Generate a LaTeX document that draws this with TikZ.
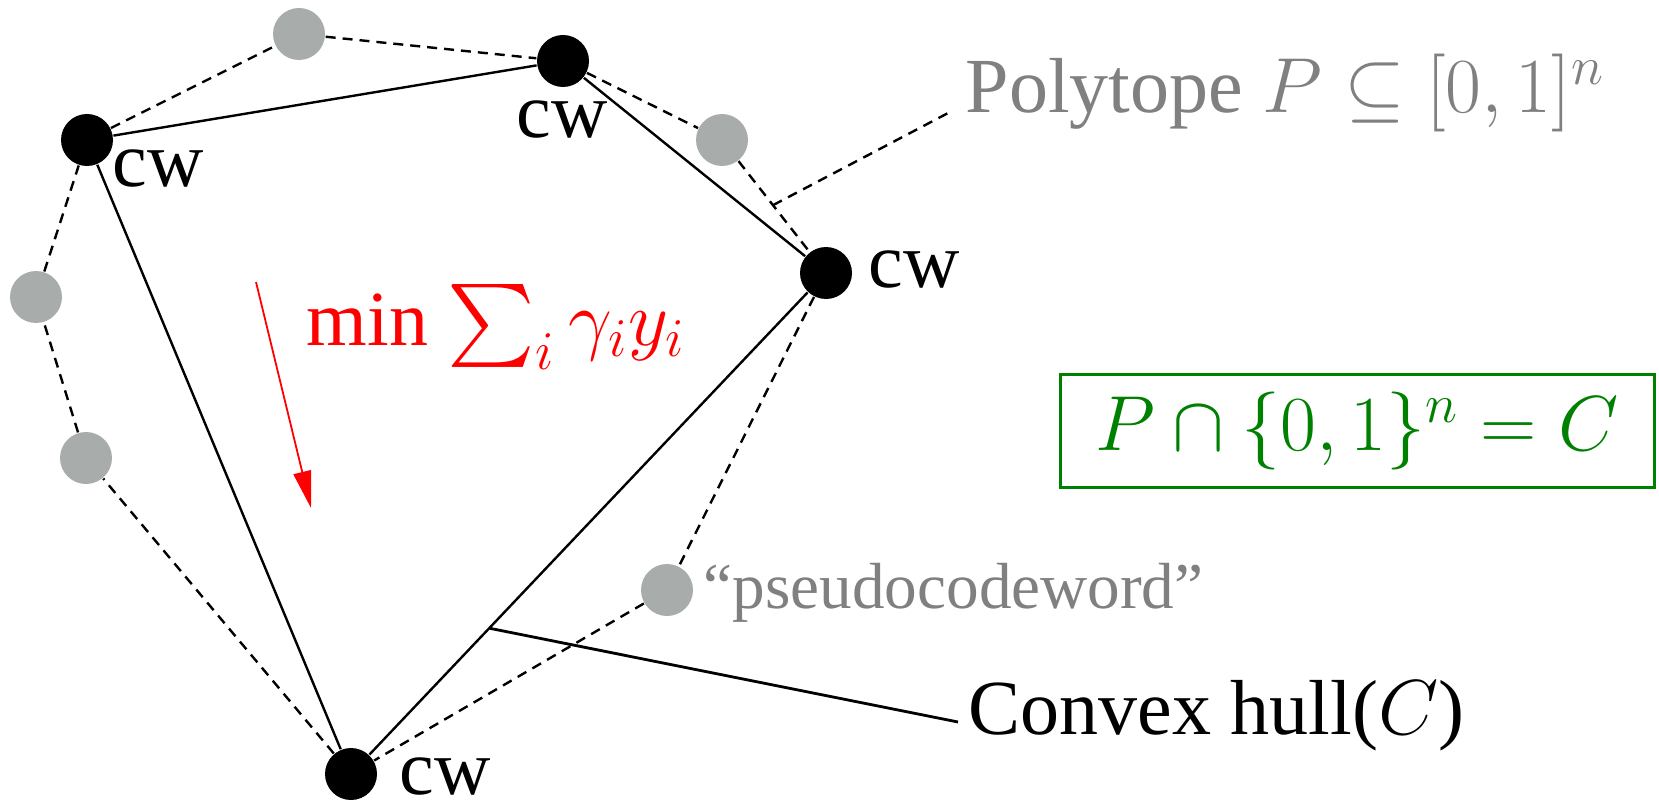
\RequirePackage{fix-cm}
\documentclass[tikz,border=0pt]{standalone}
\usepackage{amsmath}
\usepackage[no-math]{fontspec}
\setmainfont{Liberation Serif}
\usetikzlibrary{arrows.meta,calc}
\definecolor{dotgray}{RGB}{168,173,171}
\definecolor{txtgray}{RGB}{128,128,128}
\definecolor{boxgreen}{RGB}{0,128,0}
\begin{document}
\begin{tikzpicture}[x=0.25pt,y=-0.25pt,
  cwdot/.style={circle,fill=black,inner sep=0pt,minimum size=13pt},
  pdot/.style={circle,fill=dotgray,inner sep=0pt,minimum size=13pt},
  hull/.style={line width=0.6pt},
  poly/.style={line width=0.6pt,dash pattern=on 2.5pt off 1.75pt},
  lbl/.style={inner sep=0pt,anchor=base west,font=\fontsize{19.5}{23}\selectfont},
  small/.style={inner sep=0pt,anchor=base west,font=\fontsize{16.3}{20}\selectfont},
  conn/.style={line width=0.7pt}
 ]
\useasboundingbox (0,0) rectangle (1659,802);
% vertices
\node[cwdot] (L) at (87,140) {};
\node[pdot] (G1) at (299,34) {};
\node[cwdot] (T) at (563,61) {};
\node[pdot] (G2) at (722,140) {};
\node[cwdot] (R) at (826,273) {};
\node[pdot] (G3) at (667,590) {};
\node[cwdot] (B) at (351,774) {};
\node[pdot] (G4) at (86,458) {};
\node[pdot] (G5) at (36,297) {};
% edges
\draw[hull] (L) -- (T) -- (R) -- (B) -- (L);
\draw[poly] (L) -- (G1) -- (T) -- (G2) -- (R) -- (G3) -- (B) -- (G4) -- (G5) -- (L);
% labels cw
\node[lbl] (cwL) at (112,187) {cw};
\node[lbl] (cwT) at (516,138) {cw};
\node[lbl] (cwR) at (868,287) {cw};
\node[lbl] (cwB) at (399,794) {cw};
% polytope label
\coordinate (pc) at ($(G2)!0.49!(R)$);
\coordinate (pe) at (950,112);
\draw[poly] (pc) -- (pe);
\node[lbl,text=txtgray] (poly) at (965,113) {Polytope $P\subseteq[0,1]^n$};
% convex hull label
\coordinate (hc) at ($(R)!0.709!(B)$);
\coordinate (he) at (958,722);
\draw[conn] (hc) -- (he);
\node[lbl] (hull) at (968,734) {Convex hull($C$)};
% pseudocodeword
\node[small,text=txtgray] (pseudo) at (703,608) {``pseudocodeword''};
% objective
\coordinate (a1) at (256,282);
\coordinate (a2) at (311,508);
\draw[red,line width=0.45pt,-{Triangle[length=9.25pt,width=4.5pt]}] (a1) -- (a2);
\node[lbl,text=red] (obj) at (306,345) {min $\sum_i \gamma_i y_i$};
% green box
\node[draw=boxgreen,line width=0.75pt,text=boxgreen,minimum width=148.5pt,minimum height=28.4pt,inner sep=0pt,font=\fontsize{19.5}{23}\selectfont] (eq) at (1357,431) {$P\cap\{0,1\}^n=C$};
\end{tikzpicture}
\end{document}
